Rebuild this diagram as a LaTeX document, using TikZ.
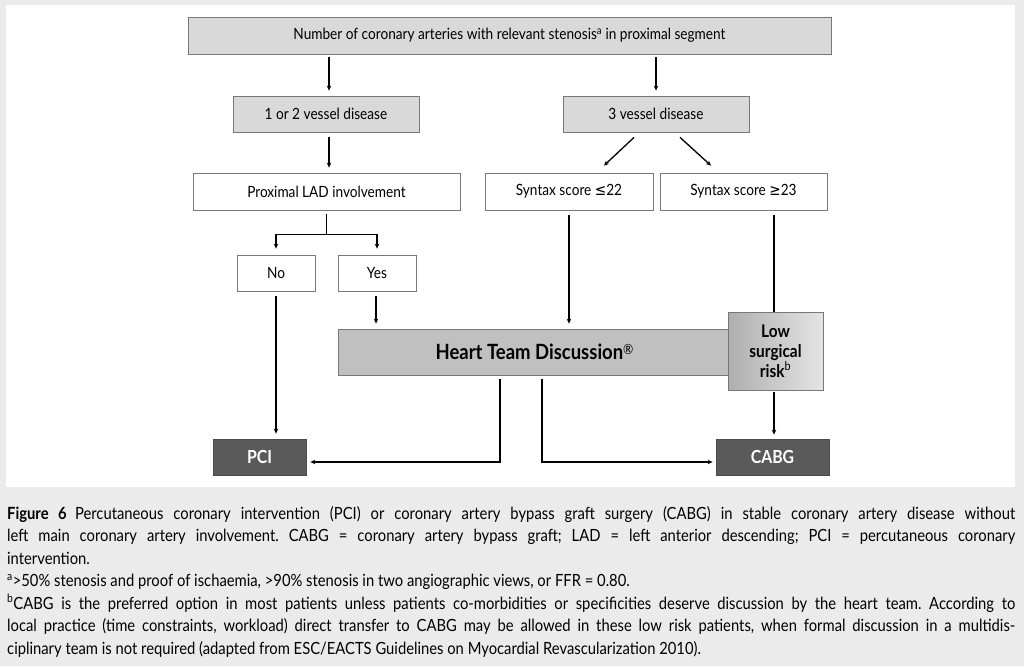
\documentclass[tikz,border=0pt]{standalone}
\usepackage{fontspec}
\setmainfont{Lato}[FakeStretch=0.88]
\newfontfamily\symf{DejaVu Sans}[FakeStretch=0.88]
\usetikzlibrary{arrows.meta,calc}
\definecolor{bgc}{RGB}{235,235,235}
\definecolor{lgray}{RGB}{217,217,217}
\definecolor{mgray}{RGB}{192,192,192}
\definecolor{dgray}{RGB}{90,90,90}
\definecolor{boxline}{RGB}{120,120,120}
\definecolor{lowl}{RGB}{175,175,175}
\definecolor{lowr}{RGB}{228,228,228}
\frenchspacing
\begin{document}
\begin{tikzpicture}[x=1pt,y=-1pt,
  box/.style={draw=boxline, line width=0.8pt, inner sep=0pt, align=center,
    font=\fontsize{15.5}{18}\selectfont},
  graybox/.style={box, fill=lgray},
  whitebox/.style={box, fill=white},
  darkbox/.style={draw=black!70, line width=0.8pt, fill=dgray, text=white, inner sep=0pt,
    font=\fontsize{18}{20}\selectfont\bfseries},
  conn/.style={line width=1.3pt, black},
  arr/.style={conn, -{Stealth[length=5pt,width=4.5pt]}}
]
\useasboundingbox (0,0) rectangle (1024,666);
\fill[bgc] (0,0) rectangle (1024,666);
\fill[white] (6,5) rectangle (1015,487);

% nodes
\node[graybox, minimum width=643pt, minimum height=37pt] (top) at (509.5,35.5)
  {Number of coronary arteries with relevant stenosis\textsuperscript{a} in proximal segment};
\node[graybox, minimum width=186pt, minimum height=36pt] (v12) at (326,114) {1 or 2 vessel disease};
\node[graybox, minimum width=186pt, minimum height=36pt] (v3) at (656,114) {3 vessel disease};
\node[whitebox, minimum width=267pt, minimum height=37pt] (lad) at (326.5,191.5) {Proximal LAD involvement};
\node[whitebox, minimum width=168pt, minimum height=37pt] (s22) at (569,191.5) {Syntax score {\symf ≤}22};
\node[whitebox, minimum width=167pt, minimum height=37pt] (s23) at (743.5,191.5) {Syntax score {\symf ≥}23};
\node[whitebox, minimum width=78pt, minimum height=36pt] (no) at (276,273) {No};
\node[whitebox, minimum width=78pt, minimum height=36pt] (yes) at (377,273) {Yes};
\node[box, fill=mgray, minimum width=393pt, minimum height=46pt,
  font=\fontsize{21}{24}\selectfont\bfseries] (ht) at (534.5,352)
  {Heart Team Discussion\raisebox{0.45ex}{\fontsize{14}{15}\selectfont\mdseries ®}};
\node[box, left color=lowl, right color=lowr, minimum width=95pt, minimum height=78pt,
  font=\fontsize{17.5}{20}\selectfont\bfseries] (low) at (775.5,351)
  {Low\\surgical\\risk\textsuperscript{\mdseries b}};
\node[darkbox, minimum width=93pt, minimum height=36pt] (pci) at (259.5,457) {PCI};
\node[darkbox, minimum width=113pt, minimum height=36pt] (cabg) at (772.5,457) {CABG};

% connectors
\draw[arr] ($(top.south -| 329,0)+(0,3)$) -- ($(v12.north -| 329,0)+(0,-5)$);
\draw[arr] ($(top.south -| v3.north)+(0,3)$) -- ($(v3.north)+(0,-5)$);
\draw[arr] ($(v12.south -| 329,0)+(0,5)$) -- ($(lad.north -| 329,0)+(0,-5)$);
\draw[arr] ($(v3.south)+(-22,5)$) -- ($(s22.north)+(35,-7)$);
\draw[arr] ($(v3.south)+(24,5)$) -- ($(s23.north)+(-32.5,-7)$);
\coordinate (ladj) at ($(lad.south)+(0,24)$);
\draw[conn] ($(lad.south)+(0,4)$) -- (ladj);
\draw[arr] (ladj) -| ($(no.north)+(0,-6)$);
\draw[arr] (ladj) -| ($(yes.north)+(0,-6)$);
\draw[arr] ($(no.south)+(0,5)$) -- ($(no.south |- pci.north)+(0,-5)$);
\draw[arr] ($(yes.south)+(-1,5)$) -- ($(yes.south |- ht.north)+(-1,-5)$);
\draw[arr] ($(s22.south)+(0,5)$) -- ($(s22.south |- ht.north)+(0,-5)$);
\draw[conn] ($(s23.south -| low.north)+(-1.5,5)$) -- ($(low.north)+(-1.5,0)$);
\draw[arr] ($(low.south)+(-1.5,2)$) -- ($(low.south |- cabg.north)+(-1.5,-4)$);
\coordinate (hl) at ($(ht.south)+(-34.5,4)$);
\coordinate (hr) at ($(ht.south)+(7.5,4)$);
\draw[arr] (hl) |- ($(pci.east)+(4,5)$);
\draw[arr] (hr) |- ($(cabg.west)+(-3,5)$);

% caption
\node[anchor=north west, inner sep=0pt, text width=1008pt, align=justify,
  font=\fontsize{16.8}{22.5}\selectfont] (cap) at (7,506)
{\textbf{Figure 6}\enspace Percutaneous coronary intervention (PCI) or coronary artery bypass graft surgery (CABG) in stable coronary artery disease without\linebreak
left main coronary artery involvement. CABG = coronary artery bypass graft; LAD = left anterior descending; PCI = percutaneous coronary\linebreak
intervention.\\
\textsuperscript{a}>50\% stenosis and proof of ischaemia, >90\% stenosis in two angiographic views, or FFR = 0.80.\\
\textsuperscript{b}CABG is the preferred option in most patients unless patients co-morbidities or specificities deserve discussion by the heart team. According to\linebreak
local practice (time constraints, workload) direct transfer to CABG may be allowed in these low risk patients, when formal discussion in a multidis-\linebreak
ciplinary team is not required (adapted from ESC/EACTS Guidelines on Myocardial Revascularization 2010).};
\end{tikzpicture}
\end{document}
